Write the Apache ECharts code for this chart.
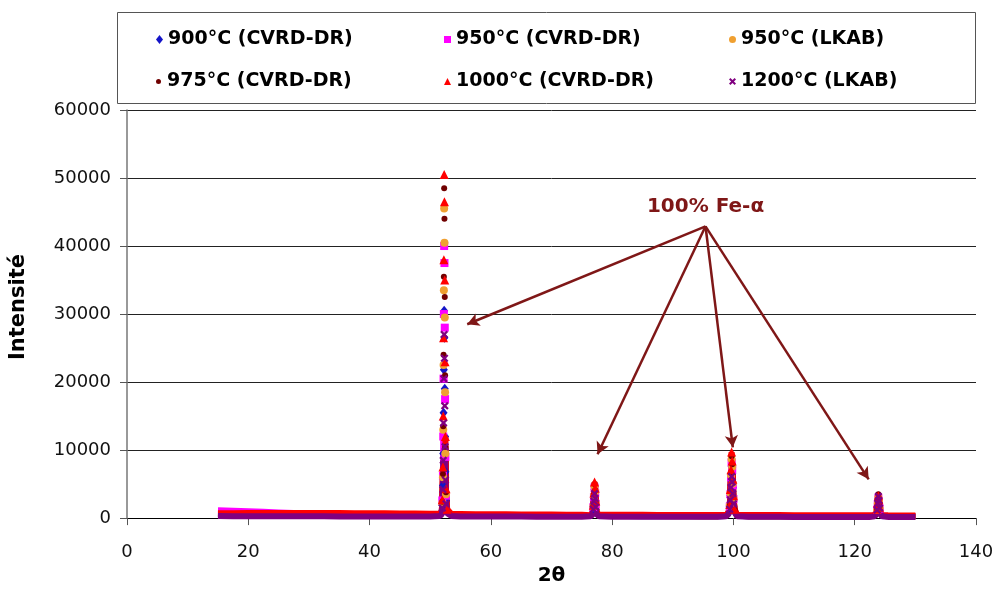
<!DOCTYPE html>
<html>
<head>
<meta charset="utf-8">
<script src="https://cdn.jsdelivr.net/npm/echarts@6/dist/echarts.min.js"></script>
<style>
html,body{margin:0;padding:0;background:#fff;}
#chart{width:997px;height:591px;}
</style>
</head>
<body>
<div id="chart"></div>
<script>
// 2-theta positions shared by every sample
const twoTheta = [
  15,17.5,20,22.5,25,27.5,30,32.5,35,37.5,40,42.5,45,47.5,50,
  51.5,51.9,52.0,52.1,52.15,52.2,52.25,52.3,52.35,52.4,52.45,52.5,52.6,52.8,53.5,
  55,57.5,60,62.5,65,67.5,70,72.5,75,
  76.4,76.8,76.9,77.0,77.1,77.2,77.3,77.4,77.8,
  80,82.5,85,87.5,90,92.5,95,97.5,
  98.8,99.2,99.4,99.5,99.6,99.7,99.8,99.9,100.0,100.2,100.6,
  102.5,105,107.5,110,112.5,115,117.5,120,122.5,
  123.3,123.6,123.7,123.8,123.9,124.0,124.1,124.2,124.5,
  125.5,127.5,130
];

const seriesNames = ['900°C (CVRD-DR)','950°C (CVRD-DR)','950°C (LKAB)','975°C (CVRD-DR)','1000°C (CVRD-DR)','1200°C (LKAB)'];

const i900cvrd = [
  520,500,480,460,450,430,420,410,400,390,380,370,360,350,340,
  450,700,1900,4800,9500,15500,21800,30500,26500,19000,12000,6800,2600,900,450,
  330,320,320,310,310,300,300,300,300,
  300,650,1500,2900,4200,3400,1900,800,320,
  300,300,290,290,290,280,280,280,
  320,700,1600,3300,5600,7600,6600,4500,2600,1000,340,
  280,280,270,270,270,260,260,260,260,
  300,550,1100,1900,2700,2200,1300,650,300,
  260,250,250
];
const i950cvrd = [
  1150,1080,1000,920,840,760,690,620,560,520,480,450,430,420,410,
  600,900,2600,6200,12000,20500,30000,40000,37500,28000,17500,9000,3300,1100,550,
  400,390,380,370,360,350,350,340,340,
  350,700,1600,3100,4500,3700,2100,900,380,
  340,330,330,320,320,310,310,310,
  380,750,1700,3500,6000,8200,7100,4800,2800,1100,400,
  310,300,300,300,290,290,290,280,280,
  350,600,1200,2000,2900,2400,1400,700,360,
  280,280,270
];
const i950lkab = [
  560,540,520,500,480,460,450,440,430,420,410,400,390,380,370,
  500,800,2200,6000,13000,22500,33500,45500,40500,29500,18500,9500,3500,1000,450,
  360,350,340,330,330,320,320,310,310,
  320,700,1700,3300,4700,3900,2200,900,340,
  310,300,300,300,290,290,290,290,
  340,760,1800,3700,6300,8600,7500,5100,2900,1100,360,
  290,280,280,280,270,270,270,270,260,
  320,600,1200,2100,3000,2500,1450,700,330,
  260,260,250
];
const i975cvrd = [
  600,580,560,540,520,500,490,480,470,460,450,440,420,400,380,
  500,850,2400,6500,13500,24000,35500,48500,44000,32500,21000,10500,3800,1100,450,
  370,360,350,340,340,330,330,320,320,
  330,750,1800,3500,5000,4100,2300,950,340,
  320,310,310,300,300,300,290,290,
  340,800,1900,3900,6700,9100,7900,5400,3100,1200,350,
  290,290,280,280,280,270,270,270,270,
  330,650,1350,2400,3500,2900,1700,800,340,
  270,260,260
];
const i1000cvrd = [
  720,730,740,750,760,760,760,750,740,730,720,700,680,660,640,
  650,950,2700,7500,15000,26500,38000,50500,46500,35000,23000,12000,4300,1300,600,
  600,580,560,550,540,530,520,510,500,
  420,800,1900,3700,5300,4400,2500,1000,480,
  500,490,480,470,470,460,450,450,
  460,850,2000,4200,7100,9700,8400,5700,3300,1300,460,
  450,440,440,430,430,420,420,410,410,
  420,700,1300,2300,3300,2700,1600,780,420,
  410,400,400
];
const i1200lkab = [
  300,290,280,280,270,270,260,260,250,250,240,240,240,230,230,
  300,500,1500,4200,8500,14000,20500,27000,23500,16500,10500,5600,2100,700,300,
  230,230,220,220,220,210,210,210,210,
  260,550,1300,2500,3600,2900,1600,650,270,
  210,210,200,200,200,200,190,190,
  270,600,1300,2700,4500,6100,5300,3600,2100,850,280,
  190,190,190,180,180,180,180,180,180,
  270,550,1200,2200,3200,2600,1500,700,280,
  180,180,170
];
const intensities = [i900cvrd, i950cvrd, i950lkab, i975cvrd, i1000cvrd, i1200lkab];

const xTicks = [0,20,40,60,80,100,120,140];
const yTicks = [0,10000,20000,30000,40000,50000,60000];

// annotation: "100% Fe-α" with arrows to the four Fe-α peaks (data coordinates)
const annotText = '100% Fe-α';
const annotLabelAt = [95.4, 45700];
const arrowFrom = [95.4, 42900];
const arrowTargets = [[56.1, 28500], [77.6, 9400], [99.9, 10400], [122.3, 5700]];

const colors = ['#1414c8','#ff00ff','#f0a030','#700000','#ff0000','#800080'];
const xPath = 'path://M0,2L2,0L5,3L8,0L10,2L7,5L10,8L8,10L5,7L2,10L0,8L3,5Z';
const symbols = ['diamond','rect','circle','circle','triangle', xPath];
const symbolSizes = [[8,10], 8, 8, 6, 9, 8];

// the dense cloud of recorded points is drawn as a thick band where it is dense
// (background + peak bases) and as separate markers where points are sparse
const BAND_MAX = 12000;
const MARK_MIN = 1200;

const chart = echarts.init(document.getElementById('chart'));
const font = 'DejaVu Sans';

const lineSeries = intensities.map((vals, k) => ({
  name: seriesNames[k],
  type: 'line',
  data: twoTheta.map((x, i) => [x, vals[i] > BAND_MAX ? null : vals[i]]),
  connectNulls: false,
  showSymbol: false,
  symbol: 'none',
  lineStyle: { color: colors[k], width: 6 },
  itemStyle: { color: colors[k] },
  emphasis: { disabled: true },
  silent: true,
  animation: false,
  z: 2
}));

const markerSeries = intensities.map((vals, k) => {
  const s = {
    name: seriesNames[k],
    type: 'scatter',
    data: twoTheta.map((x, i) => [x, vals[i]]).filter(d => d[1] >= MARK_MIN),
    symbol: symbols[k],
    symbolSize: symbolSizes[k],
    itemStyle: { color: colors[k], opacity: 1 },
    emphasis: { disabled: true },
    silent: true,
    animation: false,
    z: 3 + k
  };
  if (k === intensities.length - 1) {
    s.markLine = {
      silent: true,
      animation: false,
      symbol: ['none', 'arrow'],
      symbolSize: [10, 12],
      lineStyle: { color: '#7f1717', width: 2.5, type: 'solid' },
      label: { show: false },
      emphasis: { disabled: true },
      data: arrowTargets.map(t => [{ coord: arrowFrom }, { coord: t }])
    };
  }
  return s;
});

const legendLefts = [151, 439, 724];
const legendTops = [25, 67];
const legends = seriesNames.map((n, i) => ({
  left: legendLefts[i % 3], top: legendTops[Math.floor(i / 3)],
  orient: 'horizontal',
  itemGap: 5,
  itemWidth: 7, itemHeight: (i === 0 ? 9 : (i === 3 ? 5 : 7)),
  selectedMode: false,
  textStyle: { fontFamily: font, fontWeight: 'bold', fontSize: 19, color: '#000' },
  data: [{ name: n, icon: symbols[i], itemStyle: { color: colors[i] } }]
}));

chart.setOption({
  backgroundColor: '#fff',
  animation: false,
  grid: { left: 127, right: 21, top: 110, bottom: 71 },
  legend: legends,
  xAxis: {
    type: 'value', min: xTicks[0], max: xTicks[xTicks.length-1], interval: 20,
    name: '2θ', nameLocation: 'middle', nameGap: 47,
    nameTextStyle: { fontFamily: font, fontWeight: 'bold', fontSize: 20, color: '#000' },
    axisLine: { show: true, onZero: false, lineStyle: { color: '#000', width: 1 } },
    axisTick: { show: true, inside: false, length: 7, lineStyle: { color: '#555' } },
    axisLabel: { margin: 25, fontFamily: font, fontSize: 18, color: '#111', formatter: v => String(v) },
    splitLine: { show: false }
  },
  yAxis: {
    type: 'value', min: yTicks[0], max: yTicks[yTicks.length-1], interval: 10000,
    name: 'Intensité', nameLocation: 'middle', nameGap: 98,
    nameTextStyle: { fontFamily: font, fontWeight: 'bold', fontSize: 21, color: '#000', padding: [0, 0, 0, 14] },
    axisLine: { show: true, lineStyle: { color: '#777', width: 1.5 } },
    axisTick: { show: true, inside: false, length: 7, lineStyle: { color: '#555' } },
    axisLabel: { margin: 16, fontFamily: font, fontSize: 18, color: '#111', formatter: v => String(v) },
    splitLine: { show: true, lineStyle: { color: '#222', width: 1 } }
  },
  series: lineSeries.concat(markerSeries)
});

const p = chart.convertToPixel({ gridIndex: 0 }, annotLabelAt);
chart.setOption({
  graphic: [
    { type: 'rect', silent: true, z: 0,
      shape: { x: 117.5, y: 12.5, width: 858, height: 91 },
      style: { fill: '#fff', stroke: '#555', lineWidth: 1 } },
    { type: 'text', silent: true, z: 50, x: p[0], y: p[1],
      style: { text: annotText, fill: '#7f1717', font: 'bold 20px "DejaVu Sans"', align: 'center', verticalAlign: 'middle' } }
  ]
});
</script>
</body>
</html>
